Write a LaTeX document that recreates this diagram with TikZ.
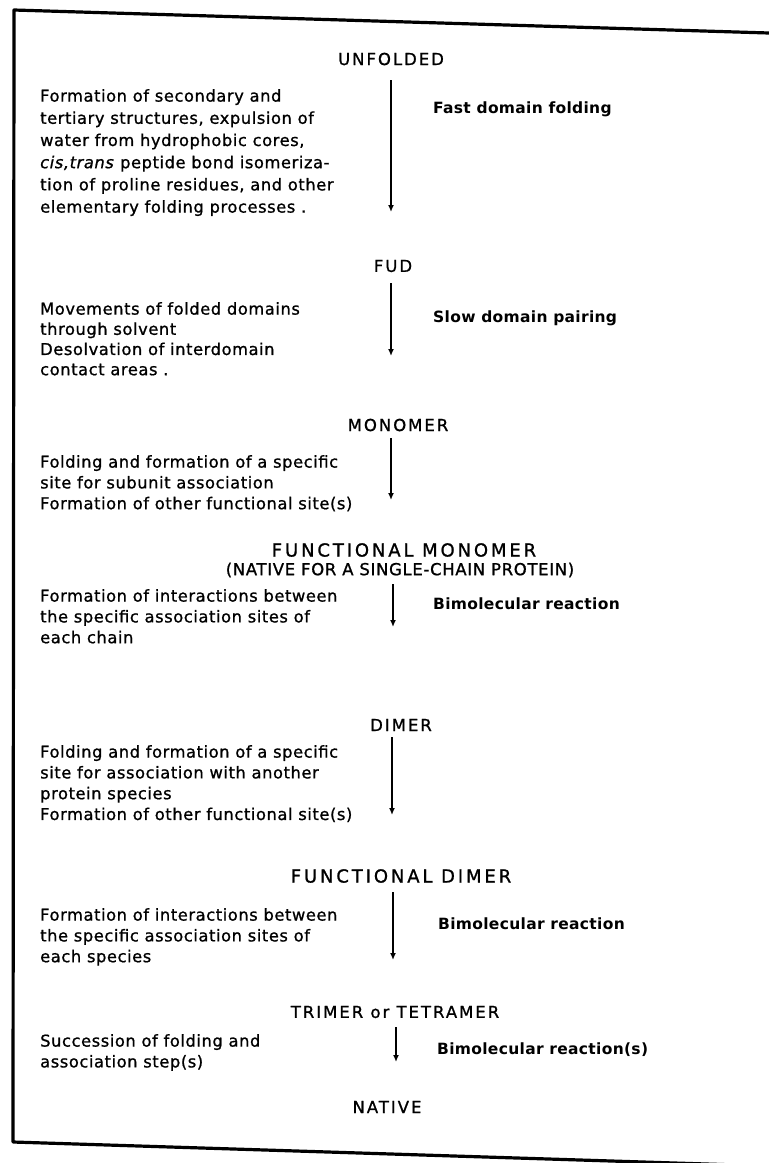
\documentclass[tikz,border=0pt]{standalone}
\usepackage{fontspec}
\setmainfont{DejaVu Sans}
\newfontfamily\statefont[LetterSpace=12, FakeBold=1]{DejaVu Sans}
\newfontfamily\widestatefont[LetterSpace=16, FakeBold=1]{DejaVu Sans}
\newfontfamily\narrowstatefont[LetterSpace=4, FakeBold=1]{DejaVu Sans}
\newfontfamily\procfont[LetterSpace=3.5, FakeBold=1]{DejaVu Sans}
\newfontfamily\ratefont[LetterSpace=2]{DejaVu Sans}
\usetikzlibrary{arrows.meta}
\tikzset{
state/.style = {inner sep = 0pt, font = \statefont\fontsize{16.5}{19}\selectfont},
widestate/.style = {inner sep = 0pt, font = \widestatefont\fontsize{18}{19}\selectfont},
process/.style = {inner sep = 0pt, anchor = north west, align = left, font = \procfont\fontsize{16.3}{20.8}\selectfont},
rate/.style = {inner sep = 0pt, anchor = west, font = \ratefont\bfseries\fontsize{15.5}{19}\selectfont},
flow/.style = {line width = 2.4pt, -{Latex[length = 7pt, width = 6pt]}},
frame/.style = {line width = 3.2pt, line cap = round, line join = round}
}
\begin{document}
\begin{tikzpicture}[x = 1pt, y = -1pt]
\useasboundingbox (0,0) rectangle (769,1163);
\draw [frame] (769,33) -- (14,10) -- (13,1142) -- (769,1166);
\node [state] (unfolded) at (391,59) {UNFOLDED};
\node [state] (fud) at (393,266) {FUD};
\node [state] (monomer) at (398,425) {MONOMER};
\node [widestate] (fmonomer) at (404,550) {FUNCTIONAL MONOMER};
\node [state, font = \narrowstatefont\fontsize{16.5}{19}\selectfont] (fmonomernote) at (400,570) {(NATIVE FOR A SINGLE-CHAIN PROTEIN)};
\node [state] (dimer) at (401,725) {DIMER};
\node [widestate] (fdimer) at (401,876) {FUNCTIONAL DIMER};
\node [state] (oligomer) at (395,1012) {TRIMER or TETRAMER};
\node [state] (native) at (387,1107) {NATIVE};
\node [process, font = \procfont\fontsize{16.3}{22.2}\selectfont] (folding) at (40,89) {Formation of secondary and\\tertiary structures, expulsion of\\water from hydrophobic cores,\\\emph{cis,trans} peptide bond isomeriza-\\tion of proline residues, and other\\elementary folding processes .};
\node [process, font = \procfont\fontsize{16.3}{20.2}\selectfont] (pairing) at (40,302) {Movements of folded domains\\through solvent\\Desolvation of interdomain\\contact areas .};
\node [process] (sitemono) at (40,455) {Folding and formation of a specific\\site for subunit association\\Formation of other functional site(s)};
\node [process] (assocmono) at (40,589) {Formation of interactions between\\the specific association sites of\\each chain};
\node [process] (sitedimer) at (40,745) {Folding and formation of a specific\\site for association with another\\protein species\\Formation of other functional site(s)};
\node [process] (assocdimer) at (40,908) {Formation of interactions between\\the specific association sites of\\each species};
\node [process] (assocolig) at (40,1034) {Succession of folding and\\association step(s)};
\node [rate] (fast) at (433,109) {Fast domain folding};
\node [rate] (slow) at (433,318) {Slow domain pairing};
\node [rate] (bimola) at (433,604) {Bimolecular reaction};
\node [rate] (bimolb) at (438,924) {Bimolecular reaction};
\node [rate] (bimolc) at (437,1050) {Bimolecular reaction(s)};
\foreach \n/\x/\ya/\yb in {1/391/80/212, 2/391/283/356, 3/391/438/500, 4/393/584/627, 5/392/737/815, 6/393/892/960, 7/396/1027/1062} {
\coordinate (s\n) at (\x,\ya);
\coordinate (e\n) at (\x,\yb);
\draw [flow] (s\n) -- (e\n);
}
\end{tikzpicture}
\end{document}
